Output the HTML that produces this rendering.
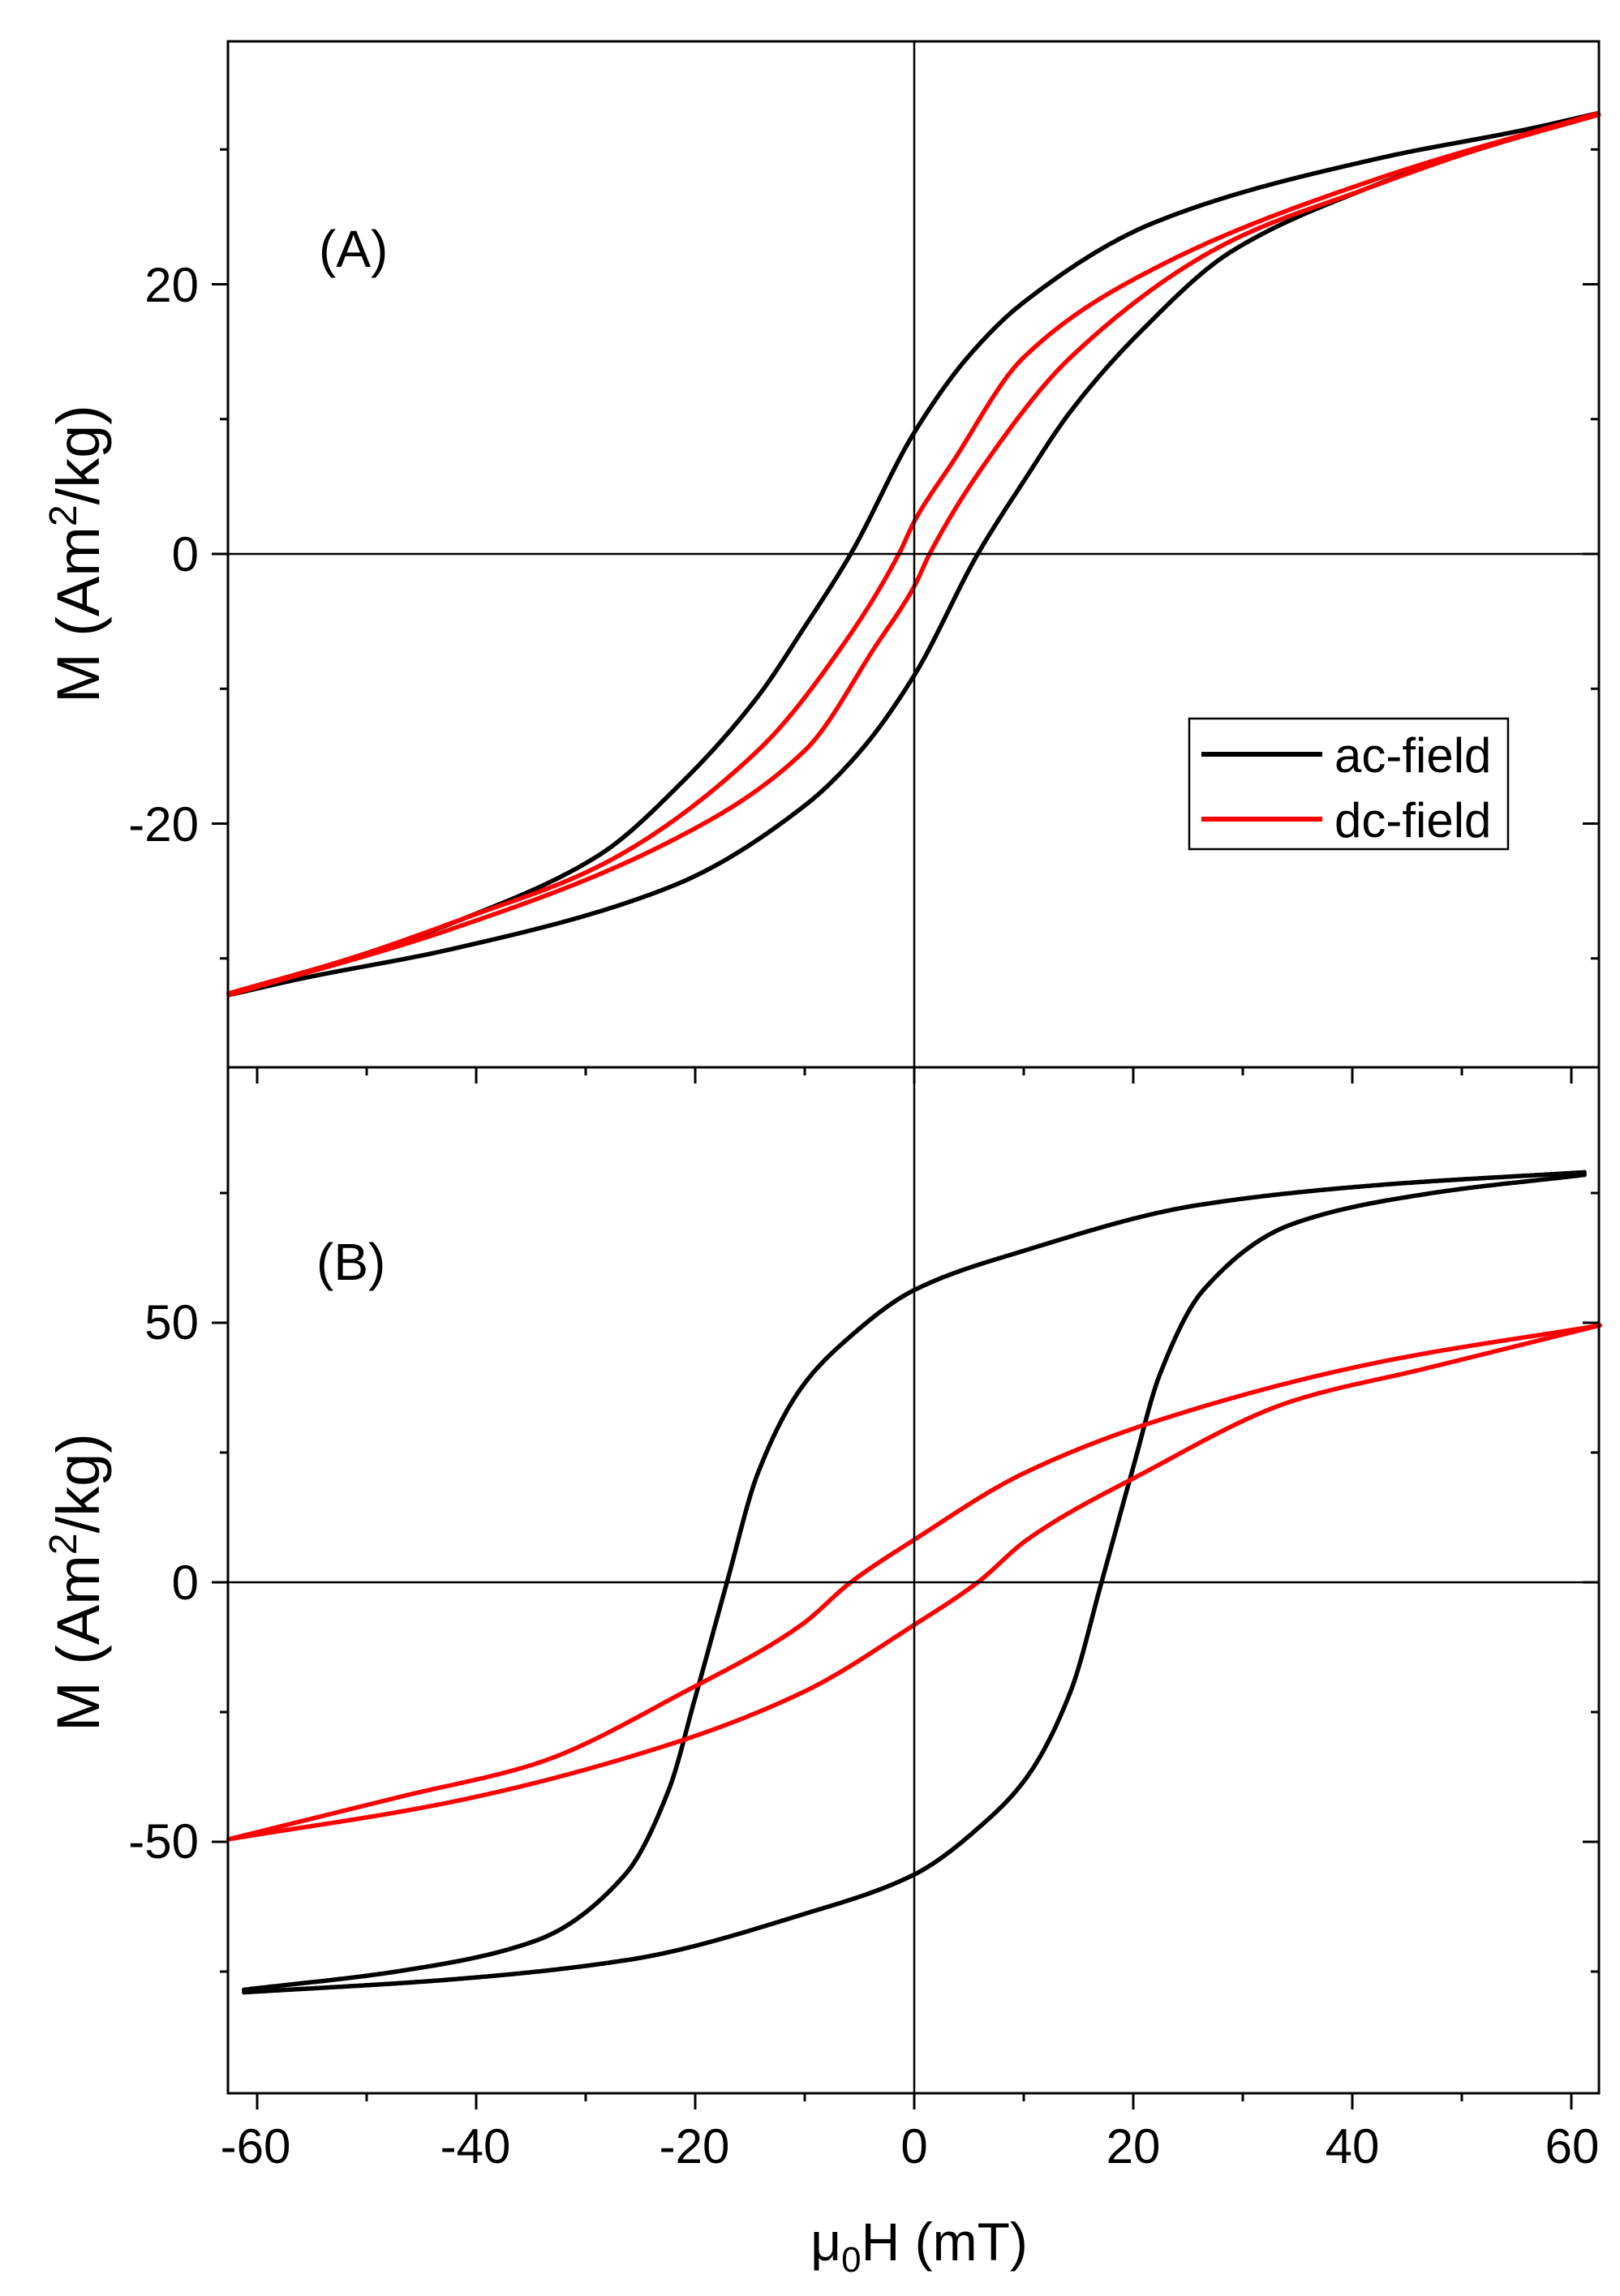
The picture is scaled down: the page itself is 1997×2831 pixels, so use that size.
<!DOCTYPE html>
<html><head><meta charset="utf-8"><style>
html,body{margin:0;padding:0;background:#fff}
svg{display:block}
text{font-family:"Liberation Sans",Arial,sans-serif;fill:#000}
</style></head><body>
<svg id="s" width="1997" height="2831" viewBox="0 0 1997 2831" xmlns="http://www.w3.org/2000/svg">
<rect width="1997" height="2831" fill="#fff"/>
<g id="ticks" stroke="#000" stroke-width="3"></g>
<g id="curves" fill="none" stroke-width="5.5" stroke-linejoin="round" stroke-linecap="round"></g>
<line x1="281" y1="683" x2="1971" y2="683" stroke="#000" stroke-width="2.5"/>
<line x1="281" y1="1951" x2="1971" y2="1951" stroke="#000" stroke-width="2.5"/>
<line x1="1127" y1="51" x2="1127" y2="2581" stroke="#000" stroke-width="2.5"/>
<rect x="281" y="51" width="1690" height="1265" fill="none" stroke="#000" stroke-width="3"/>
<rect x="281" y="1316" width="1690" height="1265" fill="none" stroke="#000" stroke-width="3"/>
<g font-size="60" text-anchor="end">
<text x="245" y="372">20</text>
<text x="245" y="704">0</text>
<text x="245" y="1037">-20</text>
<text x="245" y="1651">50</text>
<text x="245" y="1972">0</text>
<text x="245" y="2291">-50</text>
</g>
<g font-size="60" text-anchor="middle">
<text x="315" y="2667">-60</text>
<text x="586" y="2667">-40</text>
<text x="856" y="2667">-20</text>
<text x="1127" y="2667">0</text>
<text x="1397" y="2667">20</text>
<text x="1667" y="2667">40</text>
<text x="1938" y="2667">60</text>
</g>
<text x="1133" y="2787" font-size="66" text-anchor="middle">μ<tspan font-size="44" dy="14">0</tspan><tspan dy="-14">H (mT)</tspan></text>
<text transform="translate(122,683) rotate(-90)" font-size="74" text-anchor="middle">M (Am<tspan font-size="48" dy="-28">2</tspan><tspan dy="28">/kg)</tspan></text>
<text transform="translate(122,1951) rotate(-90)" font-size="74" text-anchor="middle">M (Am<tspan font-size="48" dy="-28">2</tspan><tspan dy="28">/kg)</tspan></text>
<text x="393" y="329" font-size="64">(A)</text>
<text x="390" y="1578" font-size="64">(B)</text>
<rect x="1466" y="886" width="393" height="161" fill="#fff" stroke="#000" stroke-width="2.5"/>
<line x1="1481" y1="930" x2="1630" y2="930" stroke="#000" stroke-width="6"/>
<line x1="1481" y1="1010" x2="1630" y2="1010" stroke="#f00" stroke-width="6"/>
<text x="1645" y="952" font-size="60">ac-field</text>
<text x="1645" y="1032" font-size="60">dc-field</text>
</svg>
<script>
var NS="http://www.w3.org/2000/svg";
var X0=1127,SX=13.5;
function px(h){return X0+h*SX;}
var tk=document.getElementById('ticks');
function ln(a,b,c,d){var l=document.createElementNS(NS,'line');l.setAttribute('x1',a);l.setAttribute('y1',b);l.setAttribute('x2',c);l.setAttribute('y2',d);tk.appendChild(l);}
for(var h=-60;h<=60;h+=10){var x=px(h),L=(h%20==0)?20:10;
 ln(x,2581,x,2581+L); ln(x,1316,x,1316+L);}
var A0=683,AS=16.625;
for(var m=-30;m<=30;m+=10){var y=A0-m*AS,L=(m%20==0)?20:10;ln(281-L,y,281,y);ln(1971-L,y,1971,y);}
var B0=1951,BS=6.4;
for(var m=-75;m<=75;m+=25){var y=B0-m*BS,L=(m%50==0)?20:10;ln(281-L,y,281,y);ln(1971-L,y,1971,y);}
function mono(pts){
 var n=pts.length,xs=pts.map(function(p){return p[0]}),ys=pts.map(function(p){return p[1]});
 var d=[],m=[];
 for(var i=0;i<n-1;i++)d.push((ys[i+1]-ys[i])/(xs[i+1]-xs[i]));
 m[0]=d[0];m[n-1]=d[n-2];
 for(var i=1;i<n-1;i++){ if(d[i-1]*d[i]<=0)m[i]=0; else {var w1=2*(xs[i+1]-xs[i])+(xs[i]-xs[i-1]),w2=(xs[i+1]-xs[i])+2*(xs[i]-xs[i-1]);m[i]=(w1+w2)/(w1/d[i-1]+w2/d[i]);}}
 return function(x){
  var i=0;while(i<n-2&&x>xs[i+1])i++;
  var h=xs[i+1]-xs[i],t=(x-xs[i])/h,t2=t*t,t3=t2*t;
  return (2*t3-3*t2+1)*ys[i]+(t3-2*t2+t)*h*m[i]+(-2*t3+3*t2)*ys[i+1]+(t3-t2)*h*m[i+1];
 };
}
function path(pts,y0,sy,col){
 var f=mono(pts),a=pts[0][0],b=pts[pts.length-1][0];
 var d='';
 for(var x=a;x<=b+1e-9;x+=0.2){d+=(d?'L':'M')+px(x).toFixed(1)+','+(y0-f(x)*sy).toFixed(1);}
 var e=document.createElementNS(NS,'path');e.setAttribute('d',d);e.setAttribute('stroke',col);
 document.getElementById('curves').appendChild(e);
}
function loop(up,y0,sy,col){
 path(up,y0,sy,col);
 var lo=up.map(function(p){return [-p[0],-p[1]];}).reverse();
 path(lo,y0,sy,col);
}
loop([[-62.6,-32.6],[-51.5,-30],[-41,-27],[-28.9,-22.4],[-20.8,-16.6],[-14.3,-10.6],[-10,-5.4],[-5.8,0],[0,9],[4.9,14.6],[9.9,18.6],[22,24.6],[42.2,29.3],[56,31.5],[62.5,32.7]],A0,AS,'#000');
loop([[-62.6,-32.6],[-51.5,-30],[-41,-27],[-28.9,-23.2],[-14.3,-14.6],[-6.2,-6.4],[-1.4,0],[0,2.4],[3.5,6.8],[9.9,14.5],[22,21.2],[42.2,27.8],[62.5,32.7]],A0,AS,'#f00');
loop([[-61.2,-78.5],[-46.7,-74.8],[-34.5,-69],[-26.4,-56.3],[-22.4,-39.9],[-20,-22.2],[-17.1,0],[-14.3,20.9],[-10.3,37.5],[-6.3,46.5],[0,56.3],[9.9,63.8],[26,72.7],[42.2,76.5],[61.2,79]],B0,BS,'#000');
loop([[-62.6,-49.5],[-46.7,-41.2],[-34.5,-34.9],[-20.8,-20.9],[-10.3,-8.2],[-5.8,0],[0,8.2],[9.9,20.9],[22,31],[42.2,42.3],[62.6,49.5]],B0,BS,'#f00');
</script>
</body></html>
